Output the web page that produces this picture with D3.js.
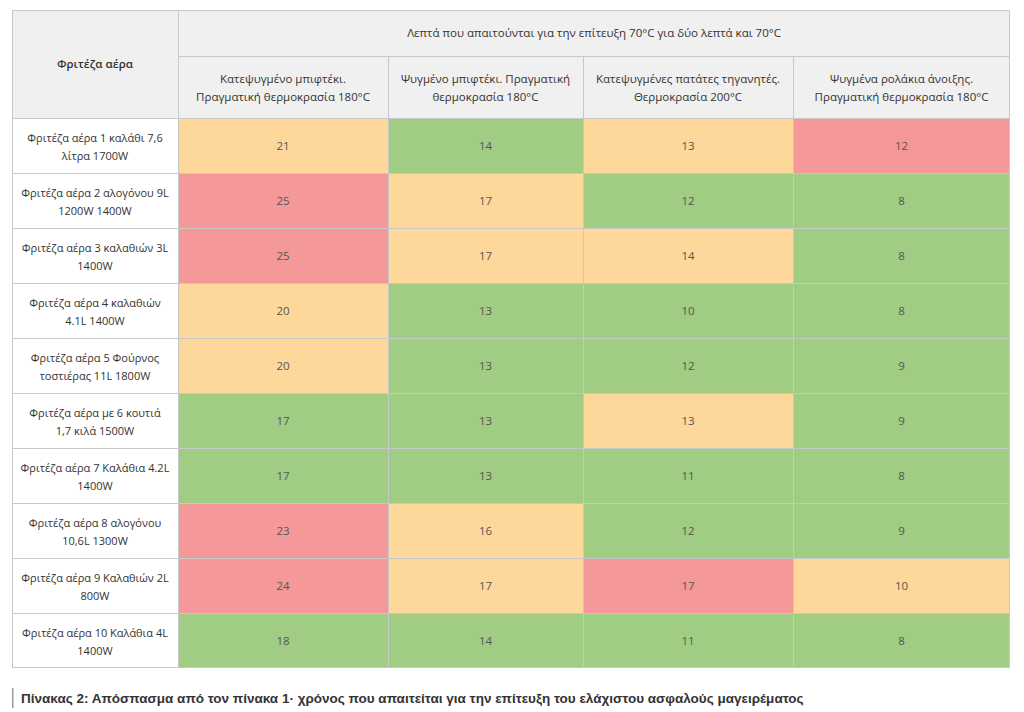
<!DOCTYPE html>
<html><head><meta charset="utf-8">
<script src="https://cdn.jsdelivr.net/npm/d3@7"></script>
<style>body{margin:0;background:#fff;font-family:"Open Sans",sans-serif}</style>
</head><body><svg id="chart" width="1024" height="712"></svg>
<script>
const groupTitle = "Λεπτά που απαιτούνται για την επίτευξη 70°C για δύο λεπτά και 70°C";
const firstHeader = "Φριτέζα αέρα";
const columns = [
  ["Κατεψυγμένο μπιφτέκι.", "Πραγματική θερμοκρασία 180°C"],
  ["Ψυγμένο μπιφτέκι. Πραγματική", "θερμοκρασία 180°C"],
  ["Κατεψυγμένες πατάτες τηγανητές.", "Θερμοκρασία 200°C"],
  ["Ψυγμένα ρολάκια άνοιξης.", "Πραγματική θερμοκρασία 180°C"]
];
const fryers = [
  ["Φριτέζα αέρα 1 καλάθι 7,6", "λίτρα 1700W"],
  ["Φριτέζα αέρα 2 αλογόνου 9L", "1200W 1400W"],
  ["Φριτέζα αέρα 3 καλαθιών 3L", "1400W"],
  ["Φριτέζα αέρα 4 καλαθιών", "4.1L 1400W"],
  ["Φριτέζα αέρα 5 Φούρνος", "τοστιέρας 11L 1800W"],
  ["Φριτέζα αέρα με 6 κουτιά", "1,7 κιλά 1500W"],
  ["Φριτέζα αέρα 7 Καλάθια 4.2L", "1400W"],
  ["Φριτέζα αέρα 8 αλογόνου", "10,6L 1300W"],
  ["Φριτέζα αέρα 9 Καλαθιών 2L", "800W"],
  ["Φριτέζα αέρα 10 Καλάθια 4L", "1400W"]
];
const minutes = [
  [21,14,13,12],[25,17,12,8],[25,17,14,8],[20,13,10,8],[20,13,12,9],
  [17,13,13,9],[17,13,11,8],[23,16,12,9],[24,17,17,10],[18,14,11,8]
];
const ratings = [
  ["o","g","o","r"],["r","o","g","g"],["r","o","o","g"],["o","g","g","g"],["o","g","g","g"],
  ["g","g","o","g"],["g","g","g","g"],["r","o","g","g"],["r","o","r","o"],["g","g","g","g"]
];
const caption = "Πίνακας 2: Απόσπασμα από τον πίνακα 1· χρόνος που απαιτείται για την επίτευξη του ελάχιστου ασφαλούς μαγειρέματος";

const svg = d3.select("#chart");
const color = d3.scaleOrdinal().domain(["g","o","r"]).range(["#a0cc84","#fdd89a","#f4989a"]);
const colEdges = [12,178,388,583,793,1010];
const x = i => colEdges[i], w = i => colEdges[i+1]-colEdges[i];
const y = d3.scaleBand().domain(d3.range(fryers.length)).range([118,668]);
const line = "#c8c8c8", text = "#333";

// header
svg.append("rect").attr("x",12).attr("y",10).attr("width",998).attr("height",108).attr("fill","#f0f0f0");
svg.append("text").attr("x",95).attr("y",68).attr("text-anchor","middle").attr("font-size",11.5)
  .attr("font-weight",600).attr("fill",text).text(firstHeader);
svg.append("text").attr("x",594).attr("y",37).attr("text-anchor","middle").attr("font-size",11.5)
  .attr("fill",text).text(groupTitle);
columns.forEach((c,i)=>{
  const t = svg.append("text").attr("text-anchor","middle").attr("font-size",11.5).attr("fill",text);
  c.forEach((s,k)=>t.append("tspan").attr("x",x(i+1)+w(i+1)/2).attr("y",83+k*18).text(s));
});

// body
fryers.forEach((f,r)=>{
  const t = svg.append("text").attr("text-anchor","middle").attr("font-size",11).attr("fill",text);
  f.forEach((s,k)=>t.append("tspan").attr("x",95).attr("y",y(r)+y.bandwidth()/2-4+k*18).text(s));
  minutes[r].forEach((v,c)=>{
    svg.append("rect").attr("x",x(c+1)).attr("y",y(r)).attr("width",w(c+1)).attr("height",y.bandwidth())
      .attr("fill",color(ratings[r][c]));
    svg.append("text").attr("x",x(c+1)+w(c+1)/2).attr("y",y(r)+y.bandwidth()/2+4)
      .attr("text-anchor","middle").attr("font-size",11.5).attr("fill","#555").text(v);
  });
});

// grid lines
const g = svg.append("g").attr("stroke",line).attr("stroke-width",1).attr("fill","none");
g.append("rect").attr("x",12.5).attr("y",10.5).attr("width",997).attr("height",657);
g.append("line").attr("x1",178).attr("x2",1010).attr("y1",56.5).attr("y2",56.5);
d3.range(fryers.length).forEach(r=>g.append("line").attr("x1",12).attr("x2",1010)
  .attr("y1",Math.round(y(r))+0.5).attr("y2",Math.round(y(r))+0.5));
colEdges.slice(1,-1).forEach((cx,i)=>g.append("line").attr("x1",cx+0.5).attr("x2",cx+0.5)
  .attr("y1",i===0?10:56).attr("y2",668));

// caption
svg.append("rect").attr("x",12).attr("y",688).attr("width",1.5).attr("height",20).attr("fill","#999");
svg.append("text").attr("x",21).attr("y",703).attr("font-family","Liberation Sans, Arial, sans-serif")
  .attr("font-size",13.5).attr("font-weight",700).attr("fill","#333").text(caption);
</script></body></html>
